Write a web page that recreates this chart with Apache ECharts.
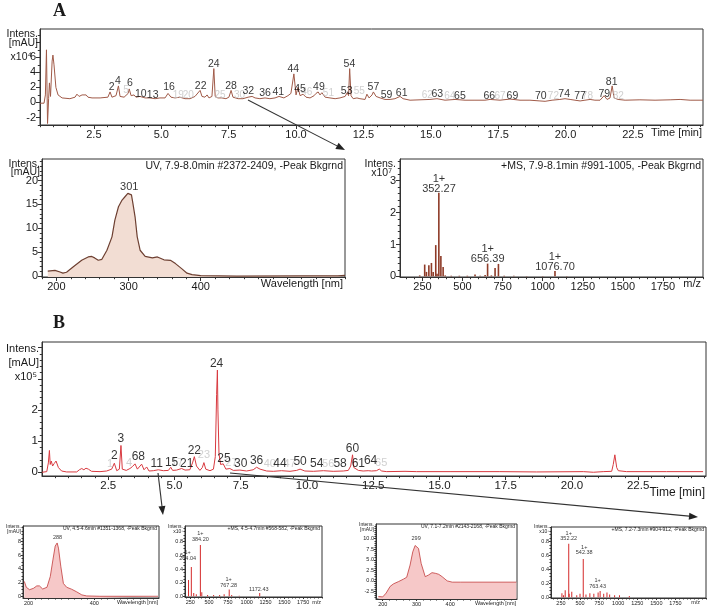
<!DOCTYPE html>
<html><head><meta charset="utf-8">
<script src="https://cdn.jsdelivr.net/npm/echarts@6/dist/echarts.min.js"></script>
<style>html,body{margin:0;padding:0;background:#fff}#c{width:709px;height:609px}</style>
</head><body><div id="c"></div>
<script>
// ================= DATA =================
// Panel A – main chromatogram (time min, intensity x10^4 mAU)
const aChrom = [[0.5,-0.1],[0.65,-0.1],[0.70,1.0],[0.74,7.0],[0.78,-2.8],[0.82,0.5],[0.85,2.6],[0.89,0.8],[0.95,5.5],[0.98,6.3],[1.02,5.0],[1.09,2.0],[1.17,1.0],[1.32,0.6],[1.61,0.5],[1.80,0.7],[1.87,1.1],[1.95,0.8],[2.06,1.0],[2.13,0.8],[2.21,1.0],[2.28,0.7],[2.43,0.6],[2.73,0.6],[3.02,0.7],[3.10,1.4],[3.17,0.7],[3.32,0.9],[3.41,2.2],[3.47,0.8],[3.62,0.7],[3.77,1.2],[3.81,1.8],[3.88,0.9],[3.99,1.0],[4.06,0.7],[4.21,0.8],[4.40,0.6],[4.58,0.6],[4.77,0.5],[4.95,0.6],[5.14,0.6],[5.25,1.2],[5.36,0.7],[5.51,0.6],[5.69,0.7],[5.88,0.5],[6.07,0.5],[6.25,0.8],[6.44,1.6],[6.51,0.8],[6.62,0.7],[6.70,1.0],[6.77,0.6],[6.88,0.8],[6.95,4.5],[7.00,0.8],[7.10,0.6],[7.25,0.6],[7.40,0.5],[7.51,0.7],[7.59,1.6],[7.66,0.7],[7.85,0.5],[8.03,0.5],[8.22,0.7],[8.37,0.8],[8.48,0.6],[8.66,0.5],[8.85,0.6],[9.03,0.5],[9.22,0.6],[9.37,0.8],[9.55,0.6],[9.70,0.9],[9.81,1.2],[9.92,3.8],[10.0,1.0],[10.07,2.0],[10.15,0.9],[10.26,1.1],[10.37,0.7],[10.52,0.6],[10.67,0.9],[10.74,1.2],[10.82,1.4],[10.89,1.0],[10.96,1.3],[11.08,0.7],[11.26,0.6],[11.45,0.5],[11.63,0.6],[11.82,0.8],[11.90,1.3],[11.95,0.9],[11.99,4.5],[12.04,0.9],[12.12,0.5],[12.26,0.6],[12.37,0.5],[12.56,0.4],[12.63,1.1],[12.71,0.6],[12.82,1.0],[12.87,1.4],[12.97,0.8],[13.12,0.6],[13.30,0.4],[13.49,0.4],[13.67,0.5],[13.86,0.8],[13.97,0.5],[14.23,0.3],[14.60,0.35],[14.97,0.4],[15.23,0.5],[15.53,0.3],[15.90,0.4],[16.27,0.3],[16.64,0.3],[17.01,0.3],[17.20,0.4],[17.57,0.3],[17.94,0.45],[18.31,0.3],[18.68,0.3],[19.05,0.2],[19.24,0.15],[19.50,0.3],[19.79,0.4],[19.98,0.5],[20.17,0.4],[20.35,0.3],[20.54,0.2],[20.72,0.3],[20.91,0.4],[21.09,0.3],[21.28,0.3],[21.43,0.9],[21.54,0.4],[21.65,0.6],[21.73,2.2],[21.80,0.6],[21.95,0.4],[22.21,0.3],[22.76,0.35],[23.32,0.3],[23.88,0.35],[24.25,0.4],[24.62,0.3],[25.1,0.3]];
const aPeaks = [['2',3.16,2.0],['4',3.39,2.84],['6',3.84,2.61],['10',4.24,1.11],['13',4.68,0.97],['16',5.29,2.0],['22',6.46,2.17],['24',6.95,5.1],['28',7.59,2.17],['32',8.23,1.55],['36',8.85,1.2],['41',9.34,1.41],['44',9.90,4.4],['45',10.15,1.73],['49',10.85,2.0],['53',11.88,1.55],['54',11.98,5.1],['57',12.87,2.0],['59',13.36,0.97],['61',13.92,1.2],['63',15.24,1.07],['65',16.08,0.88],['66',17.17,0.88],['69',18.03,0.88],['70',19.08,0.88],['74',19.95,1.07],['77',20.54,0.88],['79',21.44,1.07],['81',21.71,2.75]];
const aPeaksGrey = [['5',3.69,1.64],['19',5.63,0.97],['20',6.0,0.97],['25',7.18,0.97],['30',7.9,0.97],['46',10.4,1.4],['51',11.2,1.2],['55',12.35,1.5],['62',14.87,1.0],['64',15.71,0.88],['67',17.57,0.88],['72',19.55,0.88],['78',20.81,0.88],['82',21.96,0.88]];
// Panel A – UV spectrum (nm, mAU)
const aUV = [[188,1.05],[198,1.2],[205,0.84],[209,0.6],[214,0.8],[223,1.9],[235,3.3],[244,4.0],[249,4.1],[253,3.8],[258,3.3],[263,3.5],[270,5.4],[277,8.2],[281,11.7],[286,14.5],[291,15.9],[295,16.6],[299,17.3],[301,17.6],[304,17.0],[306,15.2],[309,12.4],[312,8.2],[316,5.4],[323,4.1],[333,3.8],[340,4.0],[349,3.4],[358,3.3],[365,2.6],[374,1.5],[381,0.6],[388,0.3],[400,0.07],[450,0.0],[540,0.02],[590,0.05],[600,0.15]];
const aUVPeak = [['301',301,18.6]];
// Panel A – MS spectrum (m/z, x10^7)
const aMS = [[233,0.03],[264,0.37],[275,0.14],[290,0.35],[306,0.42],[317,0.14],[333,0.98],[341,0.08],[352.27,2.62],[365,0.64],[379,0.29],[392,0.03],[430,0.02],[480,0.02],[530,0.02],[578,0.06],[610,0.02],[641,0.04],[656.39,0.4],[680,0.03],[703,0.26],[724,0.39],[760,0.02],[820,0.02],[900,0.01],[1000,0.01],[1076.7,0.17],[1150,0.01]];
const aMSLabels = [['1+\n352.27',353,2.9],['1+\n656.39',657,0.71],['1+\n1076.70',1077,0.45]];
// Panel B – main chromatogram (time min, x10^5 mAU)
const bChrom = [[0,0],[0.18,0.02],[0.24,0.3],[0.28,0.7],[0.31,0.25],[0.35,0.36],[0.40,0.2],[0.46,0.28],[0.53,0.36],[0.62,0.15],[0.74,0.04],[0.93,0.01],[1.31,0.01],[1.41,0.08],[1.50,0.12],[1.58,0.08],[1.66,0.13],[1.75,0.1],[1.87,0.03],[2.19,0.02],[2.44,0.04],[2.63,0.1],[2.73,0.29],[2.82,0.05],[2.92,0.1],[2.98,0.86],[3.03,0.1],[3.18,0.06],[3.32,0.12],[3.41,0.18],[3.51,0.27],[3.60,0.1],[3.67,0.15],[3.76,0.26],[3.85,0.08],[3.95,0.17],[4.04,0.04],[4.20,0.05],[4.39,0.08],[4.58,0.05],[4.77,0.06],[4.86,0.16],[4.93,0.06],[5.08,0.07],[5.27,0.12],[5.40,0.07],[5.58,0.08],[5.68,0.3],[5.75,0.5],[5.83,0.2],[5.96,0.06],[6.05,0.15],[6.11,0.31],[6.18,0.1],[6.34,0.05],[6.47,0.1],[6.54,0.5],[6.59,2.5],[6.62,3.28],[6.64,2.0],[6.68,0.6],[6.74,0.25],[6.84,0.27],[6.94,0.1],[7.09,0.12],[7.22,0.06],[7.47,0.07],[7.72,0.04],[7.97,0.08],[8.10,0.16],[8.23,0.1],[8.48,0.04],[8.73,0.03],[9.04,0.05],[9.36,0.03],[9.61,0.06],[9.74,0.1],[9.92,0.04],[10.24,0.03],[10.62,0.05],[10.99,0.03],[11.37,0.04],[11.56,0.06],[11.65,0.2],[11.72,0.56],[11.77,0.15],[11.81,0.1],[11.94,0.06],[12.12,0.04],[12.31,0.05],[12.38,0.1],[12.44,0.04],[12.62,0.05],[12.73,0.1],[12.82,0.04],[13.01,0.02],[13.70,0.03],[14.14,0.02],[15.40,0.02],[17.28,0.02],[18.67,0.01],[20.43,0.02],[20.81,0.0],[21.18,0.02],[21.50,0.03],[21.56,0.25],[21.62,0.56],[21.69,0.15],[21.75,0.05],[22.06,0.02],[23.57,0.02],[24.95,0.02]];
const bPeaks = [['2',2.73,0.52],['3',2.98,1.09],['6',3.51,0.50],['8',3.76,0.50],['11',4.33,0.27],['15',4.89,0.32],['21',5.46,0.26],['22',5.75,0.69],['24',6.59,3.47],['25',6.87,0.45],['30',7.50,0.27],['36',8.10,0.37],['44',8.98,0.27],['50',9.74,0.34],['54',10.37,0.27],['58',11.25,0.27],['60',11.72,0.77],['61',11.94,0.27],['64',12.40,0.36]];
const bPeaksGrey = [['1',2.57,0.27],['4',3.29,0.3],['17',5.1,0.3],['23',6.11,0.56],['27',7.15,0.3],['40',8.6,0.27],['47',9.35,0.27],['56',10.8,0.27],['65',12.8,0.3]];
// Panel B – small spectra
const bUV1 = [[187,2.2],[193,1.35],[203,1.0],[215,1.2],[225,1.55],[233,1.55],[243,1.1],[256,1.35],[266,2.9],[274,5.3],[281,7.3],[287,7.75],[291,7.0],[298,4.4],[306,1.9],[316,1.35],[331,1.07],[346,0.7],[362,0.25],[377,0.1],[417,0.05],[594,0.05]];
const bUV1Peak = [['288',288,8.5]];
const bMS1 = [[227,0.24],[264.04,0.43],[296,0.05],[330,0.03],[384.2,0.75],[403,0.06],[480,0.02],[560,0.02],[640,0.02],[700,0.03],[767.28,0.1],[800,0.02],[900,0.01],[1172.43,0.05]];
const bMS1Labels = [['1+\n264.04',215,0.6],['1+\n384.20',384,0.88],['1+\n767.28',760,0.2],['1172.43',1160,0.1]];
const bUV2 = [[187,-3.7],[200,-3.8],[210,-2.9],[222,-1.3],[232,-0.7],[247,-0.16],[261,0.4],[271,0.86],[281,3.75],[289,6.9],[296,8.4],[300,8.7],[306,7.7],[314,4.1],[326,1.0],[336,1.4],[346,1.95],[356,1.8],[366,1.56],[376,1.0],[391,0.0],[406,-0.3],[431,-0.3],[596,-0.3]];
const bUV2Peak = [['299',299,10.1]];
const bMS2 = [[263,0.06],[284,0.03],[306,0.1],[352.22,0.77],[358,0.05],[392,0.08],[457,0.03],[500,0.05],[542.38,0.55],[578,0.04],[629,0.06],[681,0.05],[737,0.07],[763.43,0.09],[810,0.05],[853,0.07],[888,0.04],[953,0.03],[1017,0.03],[1146,0.02]];
const bMS2Labels = [['1+\n352.22',352,0.88],['1+\n542.38',555,0.68],['1+\n763.43',730,0.2]];
// Tick labels
const timeTicks = [2.5,5,7.5,10,12.5,15,17.5,20,22.5];
const aChromYLabels = [-2,0,2,4,6];
const bChromYLabels = [0,1,2];
const aUVXTicks = [200,300,400];
const aUVYTicks = [0,5,10,15,20];
const mzTicks = [250,500,750,1000,1250,1500,1750];
const aMSYTicks = [0,1,2,3];
const bUV1XTicks = [200,400];
const bUV1YTicks = [0,2,4,6,8];
const bUV2XTicks = [200,300,400];
const bUV2YTicks = [-2.5,0,2.5,5,7.5,10];
const bMSYTicks = [0,0.2,0.4,0.6,0.8];

// ================= BUILD =================
const FONT = 'Liberation Sans, Arial, sans-serif';
const AX = '#333';
function rng(a,b,s){const r=[];for(let v=a;v<=b+1e-9;v+=s)r.push(+v.toFixed(4));return r;}
const option={animation:false,grid:[],xAxis:[],yAxis:[],series:[],graphic:[]};
function panel(p){
  const gi=option.grid.length;
  option.grid.push({left:p.box[0],top:p.box[1],width:p.box[2],height:p.box[3],show:true,borderColor:AX,borderWidth:1,backgroundColor:'transparent'});
  const mk=(d,isX)=>{
    const base={type:'value',gridIndex:gi,min:d.min,max:d.max,position:isX?'bottom':'left',splitLine:{show:false}};
    const major=Object.assign({},base,{
      axisLine:{show:true,onZero:false,lineStyle:{color:AX,width:1}},
      axisTick:{show:true,customValues:d.ticks||d.labels,length:p.tick,lineStyle:{color:AX}},
      axisLabel:{show:true,customValues:d.labels,formatter:d.fmt||(v=>String(v)),fontSize:p.fs,color:'#1a1a1a',fontFamily:FONT,margin:p.margin}});
    const minor=Object.assign({},base,{axisLine:{show:false,onZero:false},
      axisTick:{show:true,customValues:d.minor,length:Math.max(1.5,p.tick*0.55),lineStyle:{color:AX}},axisLabel:{show:false}});
    return [major,minor];
  };
  const xi=option.xAxis.length, yi=option.yAxis.length;
  option.xAxis.push(...mk(p.x,true));
  option.yAxis.push(...mk(p.y,false));
  return {x:xi,y:yi};
}
function line(ix,data,color,w,area){
  const s={type:'line',xAxisIndex:ix.x,yAxisIndex:ix.y,data,symbol:'none',lineStyle:{color,width:w},silent:true,z:3};
  if(area) s.areaStyle={color:area,origin:'start',opacity:1};
  option.series.push(s);
}
function bars(ix,data,color,w){
  option.series.push({type:'bar',xAxisIndex:ix.x,yAxisIndex:ix.y,data,barWidth:w,itemStyle:{color},silent:true,z:3});
}
function labels(ix,arr,color,fs,extra){
  option.series.push({type:'scatter',xAxisIndex:ix.x,yAxisIndex:ix.y,data:arr.map(a=>[a[1],a[2],a[0]]),
    symbolSize:0.1,itemStyle:{color:'transparent'},
    label:Object.assign({show:true,position:'inside',formatter:p=>p.data[2],color,fontSize:fs,fontFamily:FONT,lineHeight:fs},extra||{}),silent:true,z:5});
}
function txt(x,y,s,o){
  o=o||{};
  option.graphic.push({type:'text',x,y,z:20,silent:true,style:{text:s,fill:o.c||'#1a1a1a',
    font:(o.w||'normal')+' '+(o.fs||11)+'px '+(o.f||FONT),textAlign:o.a||'left',align:o.a||'left',
    textVerticalAlign:'middle',verticalAlign:'middle'}});
}
function arrow(x1,y1,x2,y2){
  const dx=x2-x1,dy=y2-y1,L=Math.hypot(dx,dy),ux=dx/L,uy=dy/L,hl=9,hw=3.5;
  const bx=x2-ux*hl,by=y2-uy*hl;
  option.graphic.push({type:'line',z:20,silent:true,shape:{x1,y1,x2:bx,y2:by},style:{stroke:'#333',lineWidth:1.1}});
  option.graphic.push({type:'polygon',z:20,silent:true,shape:{points:[[x2,y2],[bx-uy*hw,by+ux*hw],[bx+uy*hw,by-ux*hw]]},style:{fill:'#222'}});
}
const f1=v=>v.toFixed(1);

// ---- Panel A main ----
const pA=panel({box:[40,29,663,96],tick:4,fs:11,margin:4,
  x:{min:0.5,max:25.1,labels:timeTicks,minor:rng(0.5,25,0.5),fmt:f1},
  y:{min:-3,max:9.77,labels:aChromYLabels,ticks:[-2,0,2,4,6,8],minor:rng(-3,9,1)}});
line(pA,aChrom,'#a05a48',1);
labels(pA,aPeaksGrey,'#c4c4c4',10);
labels(pA,aPeaks,'#000',10.5);
// ---- Panel A UV ----
const pAU=panel({box:[42,159,303,118],tick:4,fs:11,margin:4,
  x:{min:180,max:600,labels:aUVXTicks,minor:rng(180,600,20)},
  y:{min:-0.2,max:24.5,labels:aUVYTicks,minor:rng(0,24,1)}});
line(pAU,aUV,'#6e4032',1.2,'#f2ddd3');
labels(pAU,aUVPeak,'#000',11);
// ---- Panel A MS ----
const pAM=panel({box:[400,159,303,118],tick:4,fs:11,margin:4,
  x:{min:110,max:2000,labels:mzTicks,minor:rng(150,2000,50)},
  y:{min:-0.02,max:3.68,labels:aMSYTicks,minor:rng(0,3.6,0.2)}});
bars(pAM,aMS,'#8e3b28',1.6);
labels(pAM,aMSLabels,'#000',11,{lineHeight:10});
// ---- Panel B main ----
const pB=panel({box:[42,342,664,134],tick:4,fs:11.5,margin:4,
  x:{min:0,max:25.06,labels:timeTicks,minor:rng(0.5,25,0.5),fmt:f1},
  y:{min:-0.12,max:4.18,labels:bChromYLabels,ticks:[0,1,2,3,4],minor:rng(0,4.1,0.2)}});
line(pB,bChrom,'#d8393f',1);
labels(pB,bPeaksGrey,'#c4c4c4',11);
labels(pB,bPeaks,'#000',12);
// ---- Panel B small spectra ----
const sm={tick:2,fs:5.5,margin:2};
const pB1=panel(Object.assign({box:[23,526,136,72],
  x:{min:183,max:597,labels:bUV1XTicks,minor:rng(200,580,20)},
  y:{min:-0.2,max:10.2,labels:bUV1YTicks,minor:rng(0,10,0.5)}},sm));
line(pB1,bUV1,'#c23b3b',0.8,'#f6c8c8');
labels(pB1,bUV1Peak,'#000',5.5);
const pB2=panel(Object.assign({box:[185,526,137,71],
  x:{min:180,max:2000,labels:mzTicks,minor:rng(200,2000,50)},
  y:{min:-0.01,max:1.03,labels:bMSYTicks,ticks:bMSYTicks,fmt:f1,minor:rng(0,1,0.05)}},sm));
bars(pB2,bMS1,'#d42a2a',1);
labels(pB2,bMS1Labels,'#000',5.5,{lineHeight:5.5});
const pB3=panel(Object.assign({box:[376,524,141,75],
  x:{min:180,max:598,labels:bUV2XTicks,minor:rng(200,580,20)},
  y:{min:-4.3,max:13.5,labels:bUV2YTicks,fmt:f1,minor:rng(-4,13,0.5)}},sm));
line(pB3,bUV2,'#c23b3b',0.8,'#f6c8c8');
labels(pB3,bUV2Peak,'#000',5.5);
const pB4=panel(Object.assign({box:[551,527,155,71],
  x:{min:120,max:2150,labels:mzTicks,minor:rng(150,2150,50)},
  y:{min:-0.01,max:1.01,labels:bMSYTicks,fmt:f1,minor:rng(0,1,0.05)}},sm));
bars(pB4,bMS2,'#d42a2a',1);
labels(pB4,bMS2Labels,'#000',5.5,{lineHeight:5.5});

// ---- texts ----
const SERIF='Liberation Serif, Times New Roman, serif';
txt(53,11,'A',{fs:18,w:'bold',f:SERIF});
txt(53,323,'B',{fs:18,w:'bold',f:SERIF});
// A main
txt(38,34,'Intens.',{a:'right',fs:10.5});
txt(38,43,'[mAU]',{a:'right',fs:10.5});
txt(32,57,'x10⁴',{a:'right',fs:10.5});
txt(702,133,'Time [min]',{a:'right',fs:11});
// A UV
txt(40,164,'Intens.',{a:'right',fs:10.5});
txt(40,172,'[mAU]',{a:'right',fs:10.5});
txt(343,166,'UV, 7.9-8.0min #2372-2409, -Peak Bkgrnd',{a:'right',fs:10.5});
txt(343,284,'Wavelength [nm]',{a:'right',fs:11});
// A MS
txt(396,164,'Intens.',{a:'right',fs:10.5});
txt(392,173,'x10⁷',{a:'right',fs:10.5});
txt(701,166,'+MS, 7.9-8.1min #991-1005, -Peak Bkgrnd',{a:'right',fs:10.5});
txt(701,284,'m/z',{a:'right',fs:11});
// B main
txt(39,349,'Intens.',{a:'right',fs:11});
txt(39,363,'[mAU]',{a:'right',fs:11});
txt(37,377,'x10⁵',{a:'right',fs:11});
txt(705,493,'Time [min]',{a:'right',fs:12});
// B small
txt(21,527,'Intens.',{a:'right',fs:5});
txt(21,532,'[mAU]',{a:'right',fs:5});
txt(157,529,'UV, 4.5-4.6min #1351-1368, -Peak Bkgrnd',{a:'right',fs:5});
txt(158,602,'Wavelength [nm]',{a:'right',fs:5.5});
txt(183,527,'Intens.',{a:'right',fs:5});
txt(183,532,'x10⁷',{a:'right',fs:5});
txt(320,529,'+MS, 4.5-4.7min #568-582, -Peak Bkgrnd',{a:'right',fs:5});
txt(321,602,'m/z',{a:'right',fs:5.5});
txt(374,525,'Intens.',{a:'right',fs:5});
txt(374,530,'[mAU]',{a:'right',fs:5});
txt(515,527,'UV, 7.1-7.2min #2143-2168, -Peak Bkgrnd',{a:'right',fs:5});
txt(516,603,'Wavelength [nm]',{a:'right',fs:5.5});
txt(549,527,'Intens.',{a:'right',fs:5});
txt(549,532,'x10⁷',{a:'right',fs:5});
txt(704,530,'+MS, 7.2-7.3min #904-912, -Peak Bkgrnd',{a:'right',fs:5});
txt(700,602,'m/z',{a:'right',fs:5.5});
// arrows
arrow(248,100,345,150);
arrow(158,473,163,515);
arrow(230,473,698,517);

const chart=echarts.init(document.getElementById('c'),null,{renderer:'canvas'});
chart.setOption(option);
</script></body></html>
